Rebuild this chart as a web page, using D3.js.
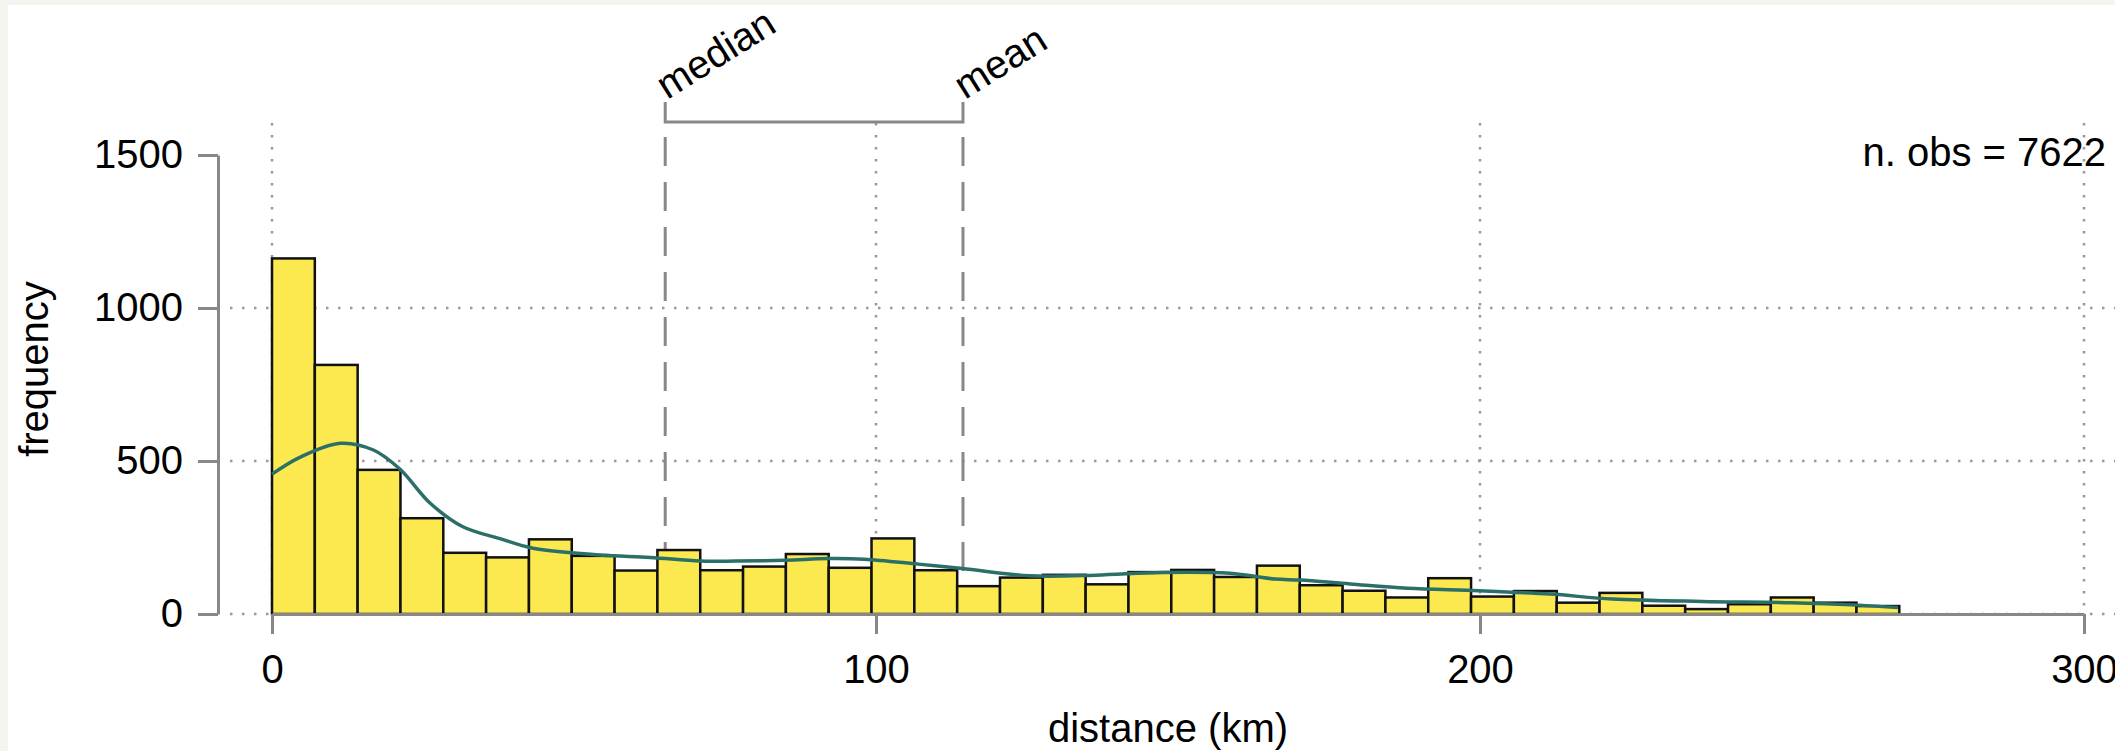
<!DOCTYPE html>
<html>
<head>
<meta charset="utf-8">
<script src="https://cdn.jsdelivr.net/npm/d3@7"></script>
<style>
  html, body { margin: 0; padding: 0; background: #f5f4ef; overflow: hidden; }
  svg { position: absolute; left: 8px; top: 5px; background: #fff; }
  text { font-family: "Liberation Sans", Arial, sans-serif; fill: #000; }
</style>
</head>
<body>
<svg id="chart"></svg>
<script>
// histogram counts, one per bin starting at 0 km
const binWidth = 7.09;
const counts = [1162, 814, 471, 313, 200, 185, 244, 190, 142, 209,
                143, 155, 196, 151, 247, 143, 91, 119, 128, 97,
                137, 144, 121, 158, 94, 76, 54, 117, 57, 75,
                37, 69, 27, 16, 32, 54, 37, 26];

// smoothed density, already scaled to counts
const densX = [0, 4.6, 11.3, 16.8, 21.2, 26.2, 31.6, 37.6, 43.2, 54.3, 62.6, 70.9, 76.7, 85, 92.2, 98,
               107, 114.3, 125.4, 136.4, 147.5, 158.6, 166, 170.2, 178.5, 188, 199.8, 211.6, 221.9,
               236.7, 251.5, 262.6, 269.2];
const densY = [457, 512, 558, 536, 473, 362, 285, 247, 215, 193, 185, 173, 173, 176, 181, 179,
               163, 149, 125, 127, 136, 133, 114, 111, 98, 84, 76, 65, 49,
               41, 37, 29, 21];

const xTicks = [0, 100, 200, 300];
const yTicks = [0, 500, 1000, 1500];
const yGrid = [0, 500, 1000];
const markers = [{label: 'median', value: 65.1}, {label: 'mean', value: 114.4}];
const nObs = 7622;

class Histogram {
  constructor(_config) {
    this.config = {
      parentElement: _config.parentElement,
      width: 2107,
      height: 746
    };
    this.initVis();
  }

  initVis() {
    let vis = this;
    // the svg sits at (8,5) in the page, so offset everything by that
    vis.svg = d3.select(vis.config.parentElement)
      .attr('width', vis.config.width)
      .attr('height', vis.config.height);
    vis.chart = vis.svg.append('g').attr('transform', 'translate(-8,-5)');

    vis.xScale = d3.scaleLinear().domain([0, 300]).range([272, 2084]);
    vis.yScale = d3.scaleLinear().domain([0, 1500]).range([614, 155]);

    // dotted grid
    vis.chart.selectAll('.hgrid').data(yGrid).join('line')
      .attr('class', 'hgrid')
      .attr('x1', 230).attr('x2', 2120)
      .attr('y1', d => vis.yScale(d)).attr('y2', d => vis.yScale(d))
      .attr('stroke', '#999').attr('stroke-width', 2.5)
      .attr('stroke-dasharray', '2.5,9.5');
    vis.chart.selectAll('.vgrid').data(xTicks).join('line')
      .attr('class', 'vgrid')
      .attr('x1', d => vis.xScale(d)).attr('x2', d => vis.xScale(d))
      .attr('y1', 123).attr('y2', vis.yScale(0))
      .attr('stroke', '#999').attr('stroke-width', 2.5)
      .attr('stroke-dasharray', '2.5,9.5');

    vis.updateVis();
  }

  updateVis() {
    let vis = this;

    // median / mean dashed lines
    vis.chart.selectAll('.marker').data(markers).join('line')
      .attr('class', 'marker')
      .attr('x1', d => vis.xScale(d.value)).attr('x2', d => vis.xScale(d.value))
      .attr('y1', 137).attr('y2', vis.yScale(0))
      .attr('stroke', '#888').attr('stroke-width', 3)
      .attr('stroke-dasharray', '29,16');

    // bars
    vis.chart.append('g').selectAll('rect').data(counts).join('rect')
      .attr('x', (d, i) => vis.xScale(i * binWidth))
      .attr('width', vis.xScale(binWidth) - vis.xScale(0))
      .attr('y', d => vis.yScale(d))
      .attr('height', d => vis.yScale(0) - vis.yScale(d))
      .attr('fill', '#fce94f')
      .attr('stroke', '#111')
      .attr('stroke-width', 2.5);

    // density curve
    let line = d3.line()
      .x(d => vis.xScale(d[0]))
      .y(d => vis.yScale(d[1]))
      .curve(d3.curveCatmullRom);
    vis.chart.append('path')
      .attr('d', line(densX.map((x, i) => [x, densY[i]])))
      .attr('fill', 'none')
      .attr('stroke', '#2b6f69')
      .attr('stroke-width', 3.5);

    // axes
    let xAxis = d3.axisBottom(vis.xScale).tickValues(xTicks)
      .tickFormat(d3.format('d'))
      .tickSize(20).tickSizeOuter(0).tickPadding(21);
    let yAxis = d3.axisLeft(vis.yScale).tickValues(yTicks)
      .tickFormat(d3.format('d'))
      .tickSize(20).tickSizeOuter(0).tickPadding(15);

    let xg = vis.chart.append('g')
      .attr('transform', `translate(0,${vis.yScale(0)})`)
      .call(xAxis);
    let yg = vis.chart.append('g')
      .attr('transform', 'translate(218,0)')
      .call(yAxis);
    [xg, yg].forEach(g => {
      g.select('.domain').attr('stroke', '#888').attr('stroke-width', 3);
      g.selectAll('.tick line').attr('stroke', '#888').attr('stroke-width', 3);
      g.selectAll('.tick text')
        .attr('font-size', 40)
        .attr('font-family', '"Liberation Sans", Arial, sans-serif')
        .attr('fill', '#000');
    });

    // bracket between median and mean
    let xm = vis.xScale(markers[0].value), xn = vis.xScale(markers[1].value);
    vis.chart.append('path')
      .attr('d', `M${xm},102V122H${xn}V102`)
      .attr('fill', 'none')
      .attr('stroke', '#888')
      .attr('stroke-width', 3);

    vis.chart.selectAll('.mlabel').data(markers).join('text')
      .attr('class', 'mlabel')
      .attr('transform', d => `translate(${vis.xScale(d.value) + 2},100) rotate(-32)`)
      .attr('font-size', 40)
      .text(d => d.label);

    // titles
    vis.chart.append('text')
      .attr('x', 1168).attr('y', 742)
      .attr('text-anchor', 'middle')
      .attr('font-size', 40)
      .text('distance (km)');
    vis.chart.append('text')
      .attr('transform', 'translate(48,369) rotate(-90)')
      .attr('text-anchor', 'middle')
      .attr('font-size', 40)
      .text('frequency');
    vis.chart.append('text')
      .attr('x', 2106).attr('y', 166)
      .attr('text-anchor', 'end')
      .attr('font-size', 40)
      .text(`n. obs = ${nObs}`);
  }
}

new Histogram({parentElement: '#chart'});
</script>
</body>
</html>
